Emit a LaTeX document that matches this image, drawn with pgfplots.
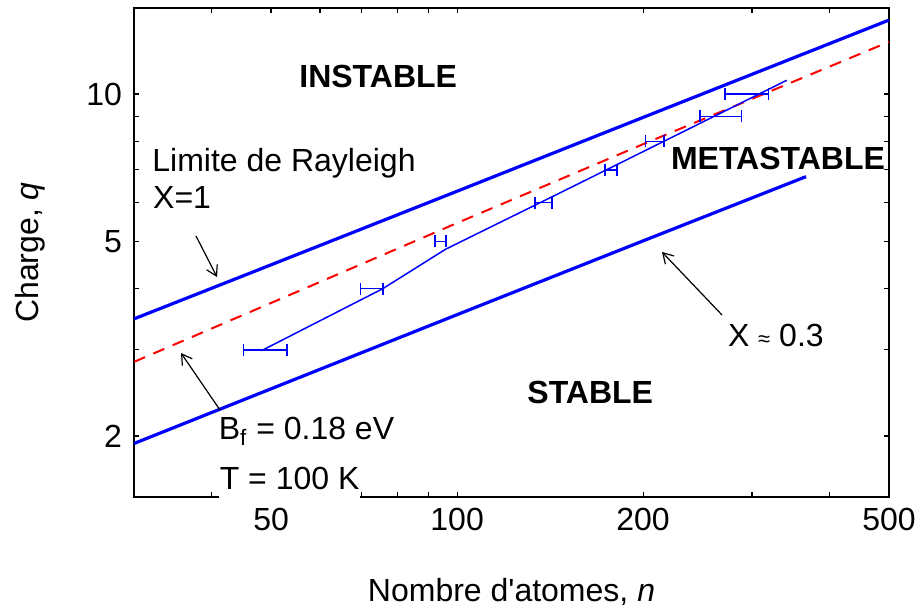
\documentclass[border=0pt]{standalone}
\usepackage{fontspec}
\setmainfont{Liberation Sans}
\usepackage{pgfplots}
\pgfplotsset{compat=1.18}
\usetikzlibrary{arrows.meta}
\newcommand{\lbl}{\fontsize{16}{19}\selectfont}
\begin{document}
\begin{tikzpicture}
\useasboundingbox (-67pt,-58.5pt) rectangle (393pt,248.5pt);
\begin{axis}[
  at={(0pt,0pt)}, anchor=south west,
  scale only axis, width=377.5pt, height=244.5pt,
  xmode=log, ymode=log,
  xmin=30, xmax=500, ymin=1.5, ymax=15,
  xtick={50,100,200,500}, xticklabels={50,100,200,500},
  minor xtick={30,40,60,70,80,90,300,400},
  ytick={2,5,10}, yticklabels={2,5,10},
  minor ytick={3,4,6,7,8,9},
  tick align=inside, major tick length=2.5pt, minor tick length=2.5pt,
  tick style={black, line width=0.6pt},
  axis line style={line width=1.4pt},
  /pgf/number format/assume math mode=true,
  every tick label/.append style={font=\lbl},
  xticklabel style={yshift=-2.2pt},
  yticklabel style={xshift=-2.5pt},
  xlabel={Nombre d\textquotesingle atomes, \textit{n}},
  ylabel={Charge, \textit{q}},
  label style={font=\lbl},
  xlabel style={at={(axis description cs:0.5,-0.1943)}, anchor=center},
  ylabel style={at={(axis description cs:-0.1377,0.5)}, anchor=center},
]
% limite de Rayleigh, X = 1
\addplot[blue, line width=1.6pt] coordinates {(30,3.47) (47,4.34) (100,6.33) (200,8.96) (500,14.17)};
% Bf = 0.18 eV, T = 100 K
\addplot[red, line width=1pt, dash pattern=on 6pt off 4.5pt] coordinates {(30,2.834) (100,5.45) (200,7.9) (500,12.79)};
% X ~ 0.3
\addplot[blue, line width=1.6pt] coordinates {(30,1.93) (47,2.42) (100,3.54) (200,5.01) (367,6.78)};
% calcul
\addplot[blue, line width=0.75pt] coordinates {(48.2,2.986) (75.8,4.0) (95.9,4.82) (146.7,6.28) (341.5,10.67)};
% experience
\addplot[draw=none, mark=none,
  error bars/.cd, x dir=both, x explicit,
  error bar style={draw=blue, solid, line width=0.8pt},
  error mark=|,
  error mark options={draw=blue, solid, line width=0.8pt, mark size=3pt}]
  coordinates {
  (49.05,3) +- (3.95,0)
  (72.85,4) +- (3.05,0)
  (94.0,5) +- (1.9,0)
  (138.0,6) +- (4.3,0)
  (177.55,7) +- (4.05,0)
  (209.0,8) +- (7.1,0)
  (267.9,9) +- (20.8,0)
  (295.1,10) +- (23.8,0)
  };
\end{axis}
\begin{scope}[every node/.style={font=\lbl, inner sep=0pt}]
\node[anchor=base west, font=\lbl\bfseries] at (82.5pt,204.8pt) {INSTABLE};
\node[anchor=base west, font=\lbl\bfseries] at (268.3pt,163.5pt) {METASTABLE};
\node[anchor=base west, font=\lbl\bfseries] at (196.5pt,46.5pt) {STABLE};
\node[anchor=base west] at (9pt,162.6pt) {Limite de Rayleigh};
\node[anchor=base west] at (9.4pt,144.3pt) {X=1};
\node[anchor=base west] at (296.8pt,75.2pt) {X {\fontsize{11}{13}\selectfont ≈} 0.3};
\node[anchor=base west] at (42.2pt,28.5pt) {B\textsubscript{f} = 0.18 eV};
\node[anchor=base west, fill=white, text depth=5.5pt, inner xsep=0.5pt] at (42.2pt,3.5pt) {T = 100 K};
\end{scope}
\begin{scope}[line width=0.6pt, -{Straight Barb[length=5pt,width=6pt]}]
\draw (31pt,130.5pt) -- (41.5pt,110pt);
\draw (294pt,91pt) -- (264pt,122.5pt);
\draw (43pt,43.5pt) -- (23.5pt,72pt);
\end{scope}
\end{tikzpicture}
\end{document}
